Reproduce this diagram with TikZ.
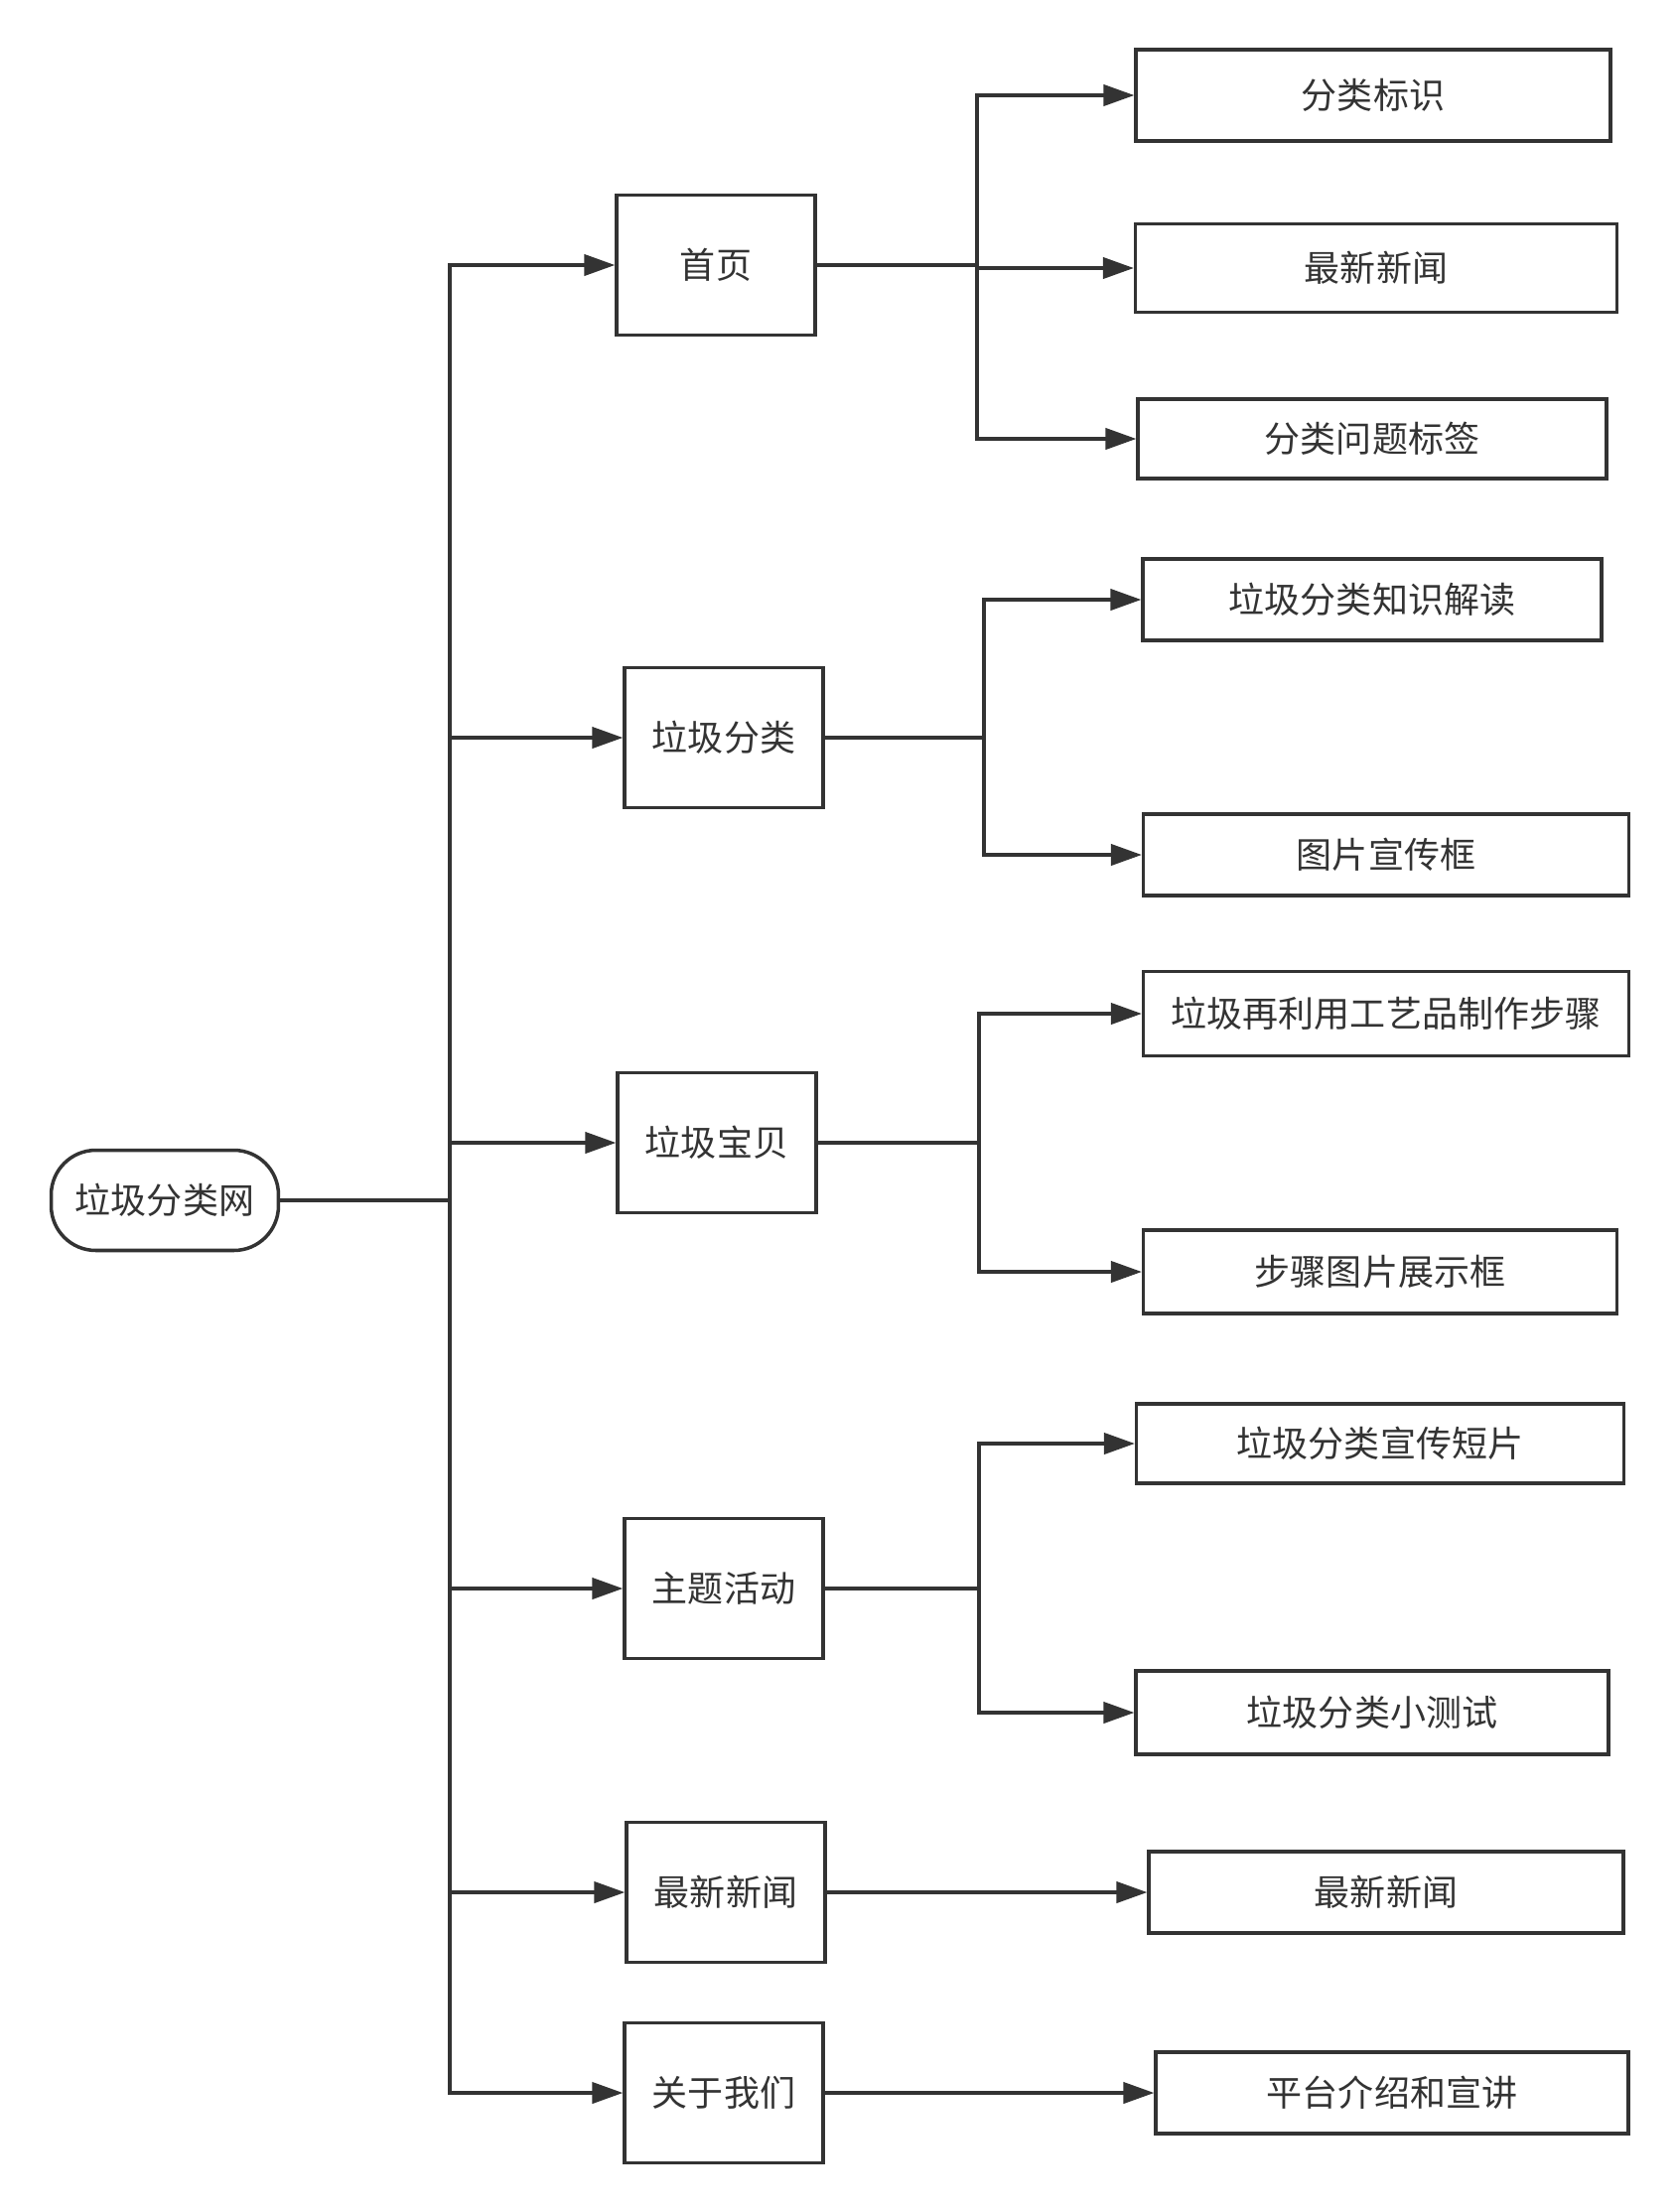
\documentclass[tikz,border=0pt]{standalone}
\usepackage{fontspec}
\setmainfont{Noto Sans CJK SC}
\usetikzlibrary{arrows.meta}
\definecolor{ink}{HTML}{333333}

\tikzset{
  menubox/.style={draw=ink, line width=1.8pt, minimum width=4cm, minimum height=2.82cm, inner sep=0pt, text=ink, font=\fontsize{20.5}{24}\selectfont},
  leafbox/.style={draw=ink, line width=1.8pt, minimum height=1.64cm, inner sep=0pt, text=ink, font=\fontsize{20.5}{24}\selectfont},
  rootbox/.style={draw=ink, line width=2pt, rounded corners=0.9cm, minimum width=4.58cm, minimum height=2.02cm, inner sep=0pt, text=ink, font=\fontsize{20.5}{24}\selectfont},
  plain/.style={draw=ink, line width=2.2pt},
  link/.style={plain, -{Triangle[length=0.62cm,width=0.42cm]}}
}

\begin{document}
\begin{tikzpicture}[x=0.02cm,y=-0.02cm]
\useasboundingbox (0,0) rectangle (1690,2228);

% root and trunk
\node[rootbox] (root) at (166,1209) {垃圾分类网};
\coordinate (trunk) at (453,1209);

% menu column
\node[menubox] (sy) at (721,267) {首页};
\node[menubox] (lj) at (729,743) {垃圾分类};
\node[menubox] (bb) at (722,1151) {垃圾宝贝};
\node[menubox] (hd) at (729,1600) {主题活动};
\node[menubox] (xw) at (731,1906) {最新新闻};
\node[menubox] (gy) at (729,2108) {关于我们};

% leaves
\node[leafbox, minimum width=9.56cm, minimum height=1.84cm] (sy1) at (1383,96) {分类标识};
\node[leafbox, minimum width=9.7cm, minimum height=1.78cm] (sy2) at (1386,270) {最新新闻};
\node[leafbox, minimum width=9.44cm, minimum height=1.6cm] (sy3) at (1382,442) {分类问题标签};
\node[leafbox, minimum width=9.24cm] (lj1) at (1382,604) {垃圾分类知识解读};
\node[leafbox, minimum width=9.78cm] (lj2) at (1396,861) {图片宣传框};
\node[leafbox, minimum width=9.78cm, minimum height=1.7cm] (bb1) at (1396,1021) {垃圾再利用工艺品制作步骤};
\node[leafbox, minimum width=9.54cm, minimum height=1.68cm] (bb2) at (1390,1281) {步骤图片展示框};
\node[leafbox, minimum width=9.82cm, minimum height=1.6cm] (hd1) at (1390,1454) {垃圾分类宣传短片};
\node[leafbox, minimum width=9.52cm, minimum height=1.68cm] (hd2) at (1382,1725) {垃圾分类小测试};
\node[leafbox, minimum width=9.56cm] (xw1) at (1396,1906) {最新新闻};
\node[leafbox, minimum width=9.52cm] (gy1) at (1402,2108) {平台介绍和宣讲};

% branch points
\coordinate (syb) at (984,267);
\coordinate (ljb) at (991,743);
\coordinate (bbb) at (986,1151);
\coordinate (hdb) at (986,1600);

% trunk connectors
\draw[plain] (root.east) -- (trunk);
\draw[link] (trunk) |- (sy.west);
\draw[link] (trunk) |- (lj.west);
\draw[link] (trunk) |- (bb.west);
\draw[link] (trunk) |- (hd.west);
\draw[link] (trunk) |- (xw.west);
\draw[link] (trunk) |- (gy.west);

% branch connectors
\draw[plain] (sy.east) -- (syb);
\draw[link] (syb) |- (sy1.west);
\draw[link] (syb) |- (sy2.west);
\draw[link] (syb) |- (sy3.west);

\draw[plain] (lj.east) -- (ljb);
\draw[link] (ljb) |- (lj1.west);
\draw[link] (ljb) |- (lj2.west);

\draw[plain] (bb.east) -- (bbb);
\draw[link] (bbb) |- (bb1.west);
\draw[link] (bbb) |- (bb2.west);

\draw[plain] (hd.east) -- (hdb);
\draw[link] (hdb) |- (hd1.west);
\draw[link] (hdb) |- (hd2.west);

\draw[link] (xw.east) -- (xw1.west);
\draw[link] (gy.east) -- (gy1.west);

\end{tikzpicture}
\end{document}
